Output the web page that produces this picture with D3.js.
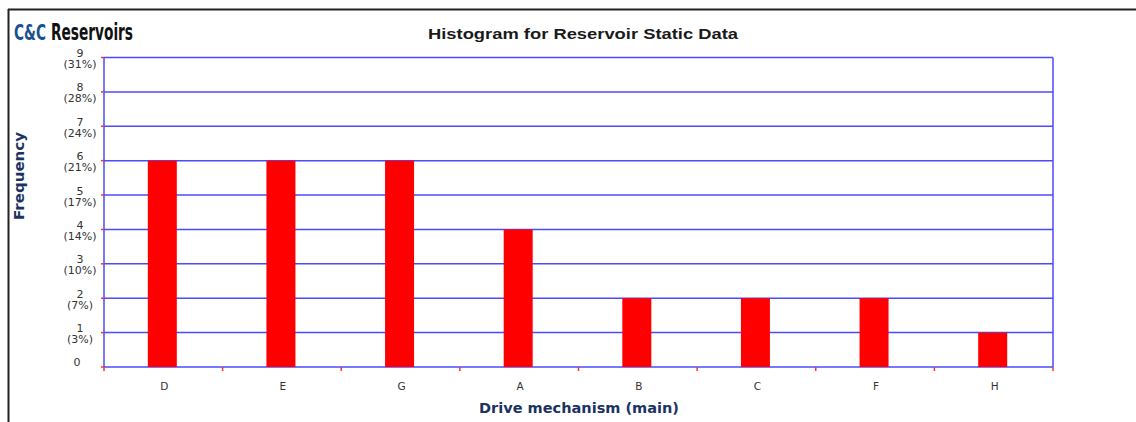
<!DOCTYPE html>
<html><head><meta charset="utf-8">
<script src="https://cdn.jsdelivr.net/npm/d3@7"></script>
<style>html,body{margin:0;padding:0;background:#fff;}svg{display:block;}</style>
</head><body>
<svg id="chart" width="1136" height="422"></svg>
<script>
const categories = ["D", "E", "G", "A", "B", "C", "F", "H"];
const frequencies = [6, 6, 6, 4, 2, 2, 2, 1];
const yTicks = [0, 1, 2, 3, 4, 5, 6, 7, 8, 9];
const yTickPercents = ["", "(3%)", "(7%)", "(10%)", "(14%)", "(17%)", "(21%)", "(24%)", "(28%)", "(31%)"];

const svg = d3.select("#chart");
const m = {left: 104, top: 57.5, right: 1053, bottom: 367};
const navy = "#1c3361";
const grid = "#4a4aff";

// outer frame
svg.append("line").attr("x1", 8).attr("x2", 1136).attr("y1", 9.5).attr("y2", 9.5).attr("stroke", "#222").attr("stroke-width", 2);
svg.append("line").attr("x1", 8.5).attr("x2", 8.5).attr("y1", 9).attr("y2", 422).attr("stroke", "#222").attr("stroke-width", 2);

// logo
const logoFont = "'Liberation Sans Narrow', 'DejaVu Sans Condensed', Arial, sans-serif";
svg.append("text").attr("transform", "translate(14,40) scale(1,1.25)")
  .attr("font-family", logoFont).attr("font-weight", "bold")
  .attr("font-size", 17.5).attr("textLength", 32).attr("lengthAdjust", "spacingAndGlyphs")
  .attr("fill", "#1a4f93").text("C&C");
svg.append("text").attr("transform", "translate(51,40) scale(1,1.25)")
  .attr("font-family", logoFont).attr("font-weight", "bold")
  .attr("font-size", 18.5).attr("textLength", 82).attr("lengthAdjust", "spacingAndGlyphs")
  .attr("fill", "#111").text("Reservoirs");

// title
svg.append("text").attr("x", 583).attr("y", 38.5).attr("text-anchor", "middle")
  .attr("font-family", "Arial, 'Liberation Sans', sans-serif").attr("font-size", 15.5)
  .attr("font-weight", "bold").attr("fill", "#1a1a1a")
  .attr("textLength", 310).attr("lengthAdjust", "spacingAndGlyphs")
  .text("Histogram for Reservoir Static Data");

const x = d3.scaleBand().domain(categories).range([m.left, m.right]).paddingInner(0).paddingOuter(0);
const y = d3.scaleLinear().domain([0, 9]).range([m.bottom, m.top]);

// gridlines
svg.append("g").selectAll("line").data(yTicks).join("line")
  .attr("x1", m.left).attr("x2", m.right)
  .attr("y1", d => y(d)).attr("y2", d => y(d))
  .attr("stroke", grid).attr("stroke-width", 1.5);
// plot border
svg.append("line").attr("x1", m.left).attr("x2", m.left).attr("y1", m.top).attr("y2", m.bottom).attr("stroke", grid).attr("stroke-width", 1.5);
svg.append("line").attr("x1", m.right).attr("x2", m.right).attr("y1", m.top).attr("y2", m.bottom).attr("stroke", grid).attr("stroke-width", 1.5);

// bars
const bw = 29;
svg.append("g").selectAll("rect").data(categories).join("rect")
  .attr("x", (d) => x(d) + x.bandwidth() / 2 - bw / 2 - 1)
  .attr("y", (d, i) => y(frequencies[i]))
  .attr("width", bw)
  .attr("height", (d, i) => y(0) - y(frequencies[i]))
  .attr("fill", "#ff0000");

// y ticks (red)
svg.append("g").selectAll("line").data(yTicks).join("line")
  .attr("x1", m.left - 3).attr("x2", m.left)
  .attr("y1", d => y(d)).attr("y2", d => y(d))
  .attr("stroke", "#ff3030").attr("stroke-width", 1.5);
// x ticks (red) at band boundaries
const bounds = categories.map(c => x(c)).concat([m.right]);
svg.append("g").selectAll("line").data(bounds).join("line")
  .attr("x1", d => d).attr("x2", d => d)
  .attr("y1", m.bottom).attr("y2", m.bottom + 4)
  .attr("stroke", "#ff3030").attr("stroke-width", 1.5);

// y tick labels
const yl = svg.append("g").attr("font-family", "'DejaVu Sans', Verdana, sans-serif")
  .attr("font-size", 11).attr("fill", "#333").attr("text-anchor", "middle");
yTicks.forEach((t, i) => {
  if (t === 0) {
    yl.append("text").attr("x", 77).attr("y", y(t) - 1).text(String(t));
  } else {
    yl.append("text").attr("x", 80).attr("y", y(t) - 0.5).text(String(t));
    yl.append("text").attr("x", 80).attr("y", y(t) + 10.5).text(yTickPercents[i]);
  }
});

// x tick labels
svg.append("g").selectAll("text").data(categories).join("text")
  .attr("x", d => x(d) + x.bandwidth() / 2 + 1).attr("y", 390)
  .attr("text-anchor", "middle")
  .attr("font-family", "'DejaVu Sans', Verdana, sans-serif").attr("font-size", 10.5)
  .attr("fill", "#333").text(d => d);

// axis titles
svg.append("text").attr("x", 579).attr("y", 413).attr("text-anchor", "middle")
  .attr("font-family", "'DejaVu Sans', Verdana, sans-serif").attr("font-weight", "bold")
  .attr("font-size", 13.5).attr("fill", navy)
  .attr("textLength", 200).attr("lengthAdjust", "spacingAndGlyphs")
  .text("Drive mechanism (main)");
svg.append("text").attr("transform", "translate(24,176) rotate(-90)").attr("text-anchor", "middle")
  .attr("font-family", "'DejaVu Sans', Verdana, sans-serif").attr("font-weight", "bold")
  .attr("font-size", 13.5).attr("fill", navy)
  .attr("textLength", 88).attr("lengthAdjust", "spacingAndGlyphs")
  .text("Frequency");
</script>
</body></html>
